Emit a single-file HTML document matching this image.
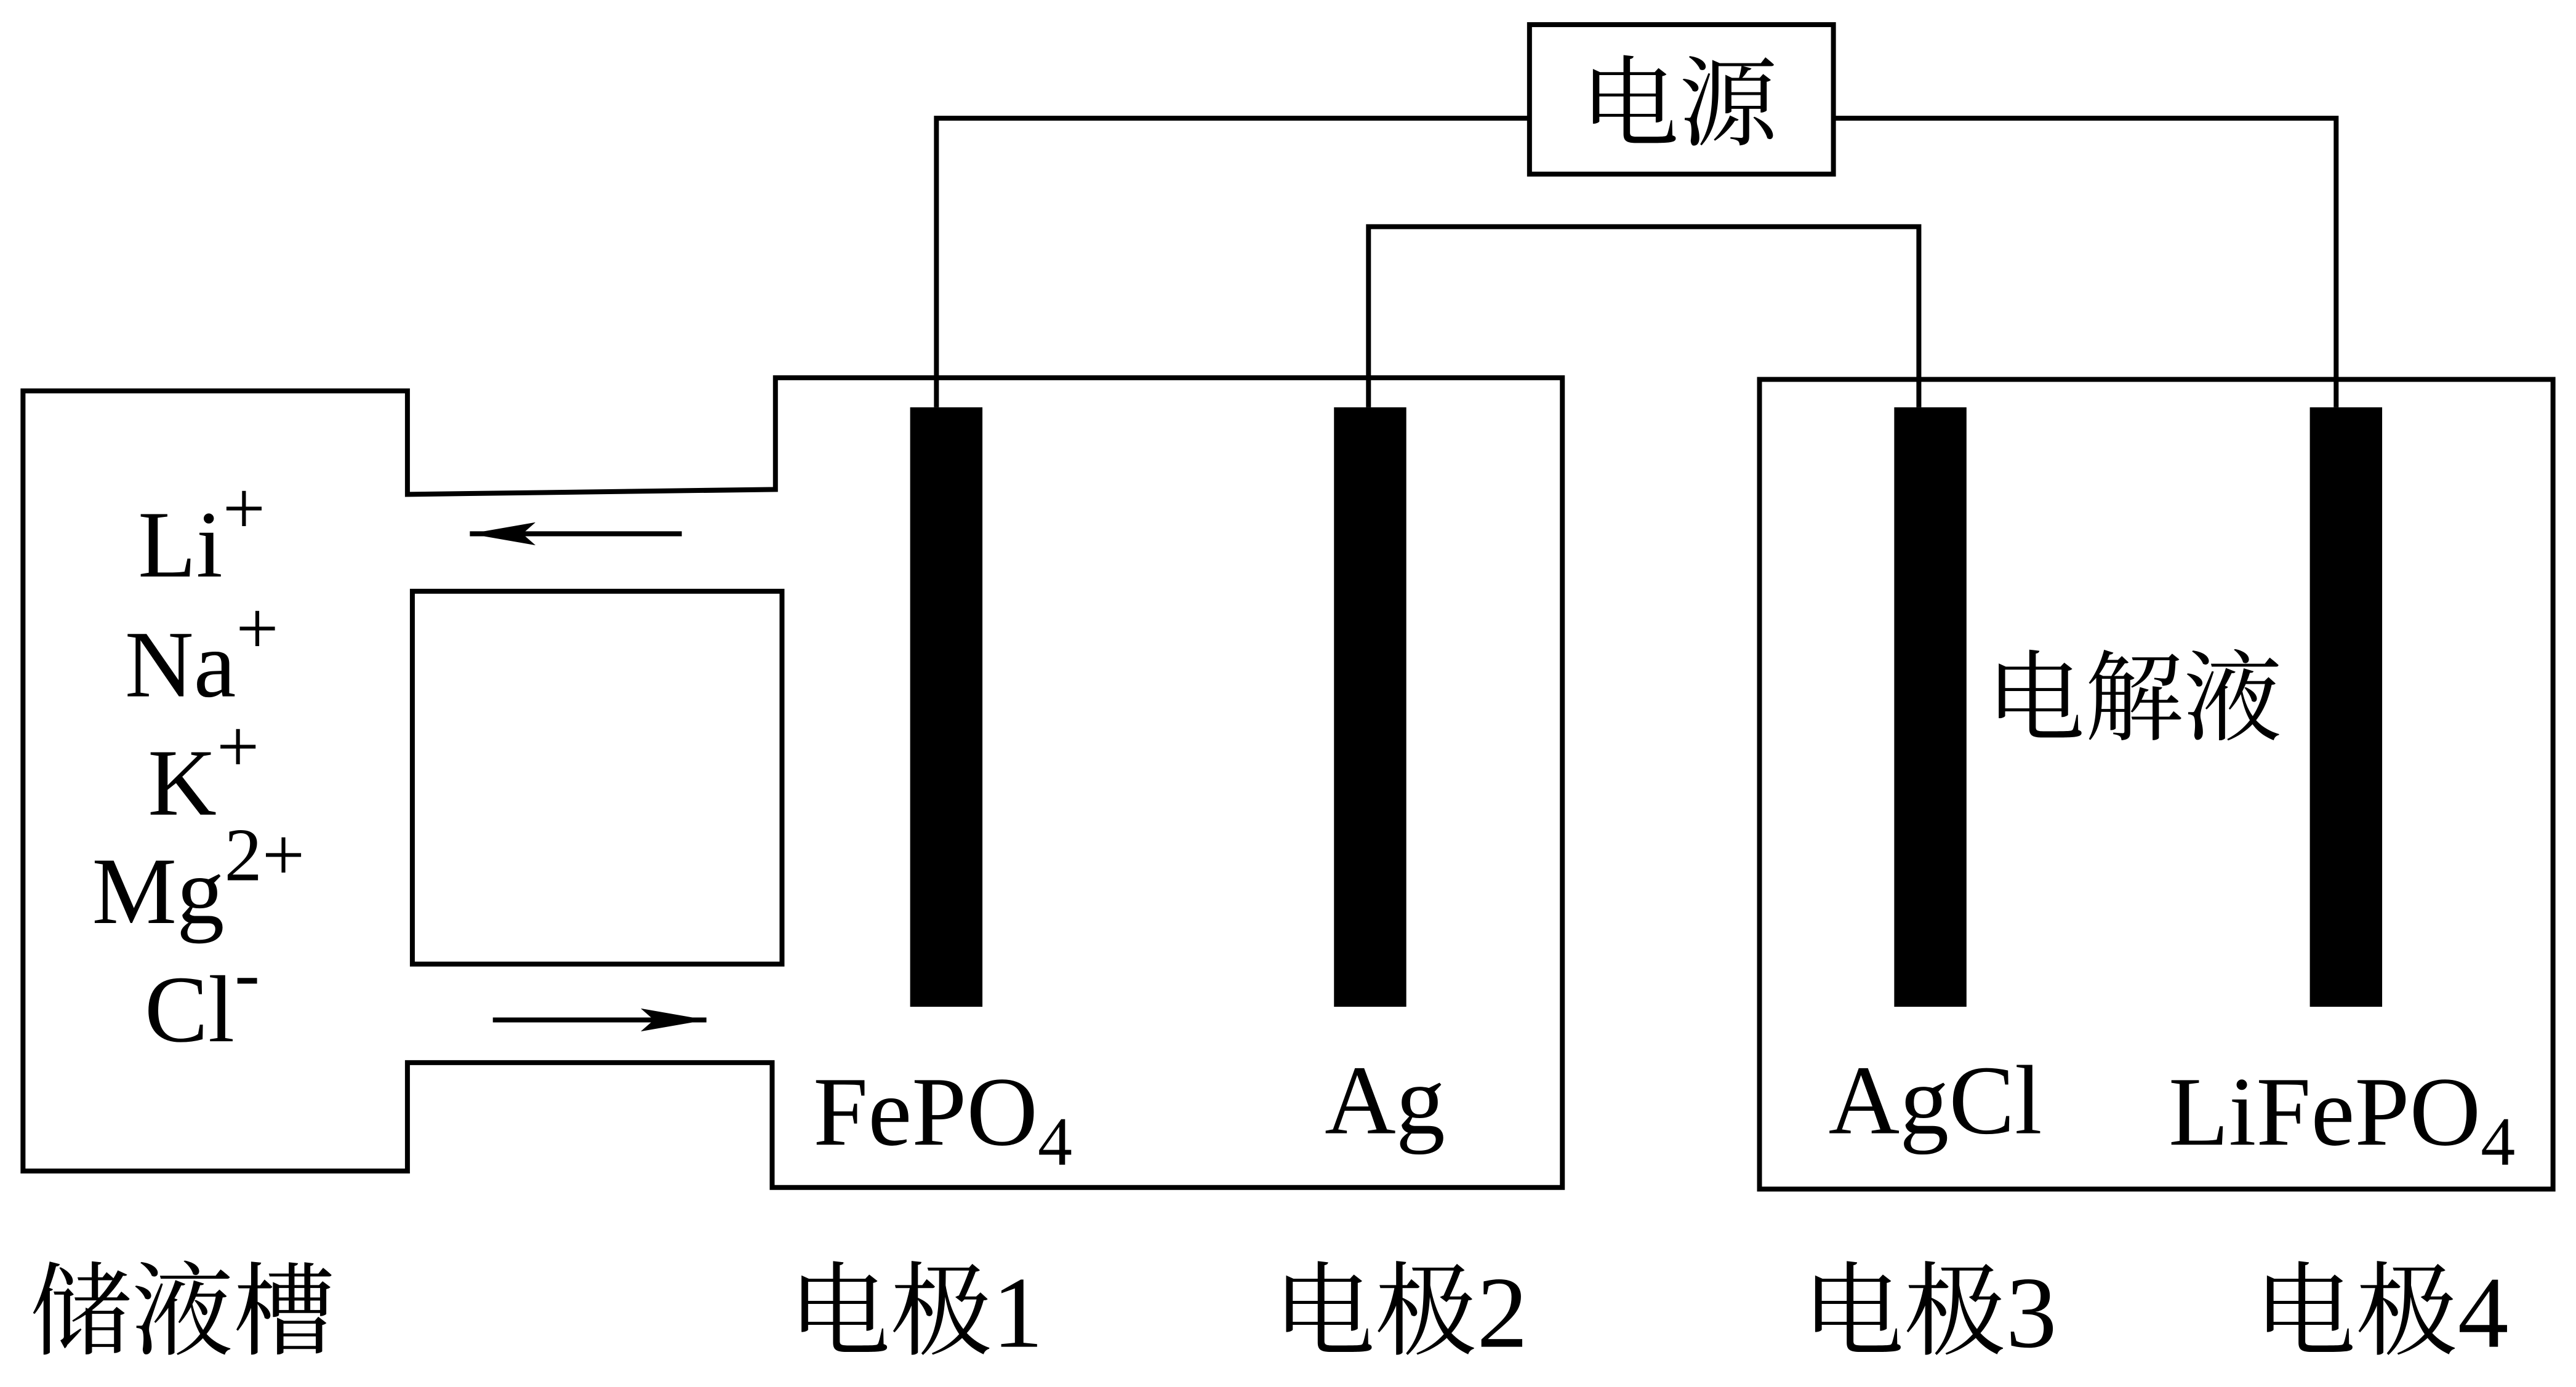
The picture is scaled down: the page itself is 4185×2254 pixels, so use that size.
<!DOCTYPE html>
<html><head><meta charset="utf-8"><style>
html,body{margin:0;padding:0;background:#fff;}
svg{display:block;}
text{font-family:"Liberation Serif","Noto Serif CJK SC",serif;fill:#000;}
</style></head><body>
<svg width="4185" height="2254" viewBox="0 0 1568 844.5" xmlns="http://www.w3.org/2000/svg">
<defs>
<marker id="a2" viewBox="0 0 40 14" markerWidth="40" markerHeight="14" refX="40" refY="7" orient="auto" markerUnits="userSpaceOnUse"><path d="M0,0 L40,7 L0,14 L8,7 Z" fill="#000"/></marker></defs>
<g fill="none" stroke="#000" stroke-width="3">
<rect x="931" y="15" width="185" height="91"/>
<polyline points="931,72 570,72 570,248"/>
<polyline points="1116,72 1422,72 1422,248"/>
<polyline points="833,248 833,138 1168,138 1168,248"/>
<polygon points="472,230 951,230 951,723 470,723 470,647 248,647 248,713 14,713 14,238 248,238 248,301 472,298"/>
<rect x="1071" y="231" width="483" height="493"/>
<rect x="251" y="360" width="225" height="227"/>
<line x1="415" y1="325" x2="286" y2="325" marker-end="url(#a2)"/>
<line x1="300" y1="621" x2="430" y2="621" marker-end="url(#a2)"/>
</g>
<g fill="#000">
<rect x="554" y="248" width="44" height="365"/>
<rect x="812" y="248" width="44" height="365"/>
<rect x="1153" y="248" width="44" height="365"/>
<rect x="1406" y="248" width="44" height="365"/>
</g>
<text x="1022" y="84" font-size="60" text-anchor="middle">电源</text>
<text x="1299" y="446" font-size="60" text-anchor="middle">电解液</text>
<g font-size="58">
<text x="84" y="351">Li<tspan font-size="46" dy="-26">+</tspan></text>
<text x="76" y="424">Na<tspan font-size="46" dy="-26">+</tspan></text>
<text x="90" y="496">K<tspan font-size="46" dy="-26">+</tspan></text>
<text x="56" y="562">Mg<tspan font-size="46" dy="-26">2+</tspan></text>
<text x="88" y="634">Cl<tspan font-size="46" dy="-26">-</tspan></text>
</g>
<g font-size="60">
<text x="495" y="697">FePO<tspan font-size="42" dy="12">4</tspan></text>
<text x="843" y="690" text-anchor="middle">Ag</text>
<text x="1178" y="690" text-anchor="middle">AgCl</text>
<text x="1320" y="697">LiFePO<tspan font-size="42" dy="12">4</tspan></text>
</g>
<g font-size="62">
<text x="18" y="820">储液槽</text>
<text x="480" y="820">电极1</text>
<text x="775" y="820">电极2</text>
<text x="1097" y="820">电极3</text>
<text x="1372" y="820">电极4</text>
</g>
</svg>
</body></html>
